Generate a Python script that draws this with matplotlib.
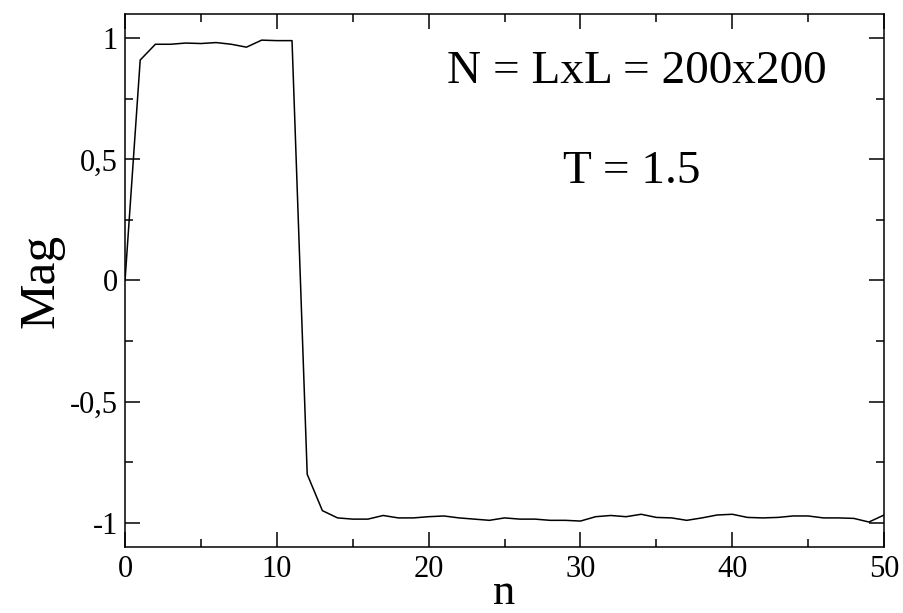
import matplotlib
matplotlib.use("Agg")
import matplotlib.pyplot as plt
from matplotlib.ticker import MultipleLocator, FixedLocator, FixedFormatter

n_vals = list(range(0, 51))
mag_vals = [0.0, 0.91, 0.975, 0.975, 0.98, 0.978, 0.982, 0.975, 0.963, 0.992,
            0.99, 0.99, -0.80, -0.95, -0.98, -0.985, -0.985, -0.97, -0.98, -0.98,
            -0.975, -0.972, -0.98, -0.985, -0.99, -0.98, -0.985, -0.985, -0.99, -0.99,
            -0.993, -0.975, -0.97, -0.975, -0.965, -0.978, -0.98, -0.99, -0.98, -0.968,
            -0.965, -0.978, -0.98, -0.978, -0.972, -0.972, -0.98, -0.98, -0.982, -0.997,
            -0.968]

xtick_vals = [0, 10, 20, 30, 40, 50]
xtick_labels = ["0", "10", "20", "30", "40", "50"]
ytick_vals = [-1, -0.5, 0, 0.5, 1]
ytick_labels = ["-1", "-0,5", "0", "0,5", "1"]

plt.rcParams['font.family'] = ['Liberation Serif', 'DejaVu Serif']

fig = plt.figure(figsize=(9.04, 6.13), dpi=100)
ax = fig.add_axes([0.1383, 0.1077, 0.978 - 0.1383, 0.9772 - 0.1077])

ax.plot(n_vals, mag_vals, color='black', linewidth=1.1)

ax.set_xlim(0, 50)
ax.set_ylim(-1.1, 1.1)

ax.xaxis.set_major_locator(FixedLocator(xtick_vals))
ax.xaxis.set_major_formatter(FixedFormatter(xtick_labels))
ax.xaxis.set_minor_locator(MultipleLocator(5))
ax.yaxis.set_major_locator(FixedLocator(ytick_vals))
ax.yaxis.set_major_formatter(FixedFormatter(ytick_labels))
ax.yaxis.set_minor_locator(MultipleLocator(0.25))

ax.tick_params(which='both', direction='in', top=True, right=True, width=1.1, colors='black')
ax.tick_params(which='major', length=11, labelsize=22)
ax.tick_params(axis='x', which='major', pad=6)
ax.tick_params(axis='y', which='major', pad=5)
ax.tick_params(which='minor', length=6)
for s in ax.spines.values():
    s.set_linewidth(1.1)

ax.set_ylabel('Mag', fontsize=37, labelpad=4)
fig.text((125 + 884) / 2 / 904, 1 - 604 / 613, 'n', fontsize=32,
         ha='center', va='baseline')

ax.text(33.7, 0.863, 'N = LxL = 200x200', fontsize=34, ha='center', va='center')
ax.text(33.4, 0.449, 'T = 1.5', fontsize=34, ha='center', va='center')

fig.savefig('out.png', dpi=100)
